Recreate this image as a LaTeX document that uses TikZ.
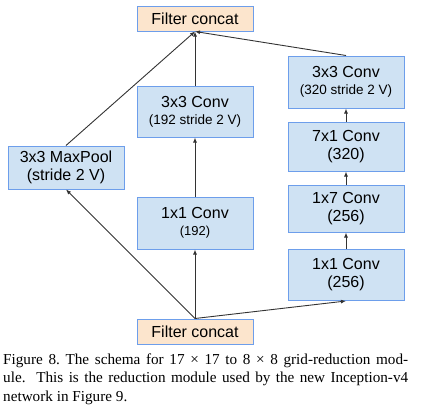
\documentclass[tikz,border=0pt]{standalone}
\usepackage{fontspec}
\setmainfont{Liberation Sans}
\newfontfamily\capfont{Liberation Serif}
\usetikzlibrary{arrows.meta}
\definecolor{boxblue}{HTML}{CFE2F3}
\definecolor{boxorange}{HTML}{FCE5CD}
\definecolor{edgeblue}{HTML}{6D9EEB}
\definecolor{linegray}{HTML}{333333}
\frenchspacing
\begin{document}
\begin{tikzpicture}[x=1pt,y=-1pt,
  bx/.style={draw=edgeblue,line width=1pt,fill=boxblue,minimum width=116pt,inner sep=0pt,align=center,font=\fontsize{16}{18}\selectfont},
  cc/.style={bx,fill=boxorange,minimum height=25pt},
  captext/.style={anchor=base west,inner sep=0pt,font=\capfont\fontsize{15.2}{17}\selectfont},
  arr/.style={draw=linegray,line width=0.9pt,-{Latex[length=5pt,width=4pt]}}]
\useasboundingbox (0,0) rectangle (424,407);
\node[cc] (top) at (195,18.5) {Filter concat};
\node[cc] (bot) at (195,331.5) {Filter concat};
\node[bx,minimum height=52pt] (c3b) at (346,82) {3x3 Conv\\[-1pt]{\fontsize{13.5}{16}\selectfont(320 stride 2 V)}};
\node[bx,minimum height=51pt] (c3a) at (195,111.5) {3x3 Conv\\[-1pt]{\fontsize{13.5}{16}\selectfont(192 stride 2 V)}};
\node[bx,minimum height=49pt] (c71) at (346,146.5) {7x1 Conv\\(320)};
\node[bx,minimum height=43pt] (mp) at (66,167.5) {3x3 MaxPool\\(stride 2 V)};
\node[bx,minimum height=47pt] (c17) at (346,208.5) {1x7 Conv\\(256)};
\node[bx,minimum height=52pt] (c1a) at (195,223) {1x1 Conv\\[-1pt]{\fontsize{13}{16}\selectfont(192)}};
\node[bx,minimum height=51pt] (c1b) at (346,275) {1x1 Conv\\(256)};
\draw[arr] (bot.north) -- (mp.south);
\draw[arr] (bot.north) -- (c1a.south);
\draw[arr] (bot.north) -- (c1b.south);
\draw[arr] (c1b) -- (c17);
\draw[arr] (c17) -- (c71);
\draw[arr] (c71) -- (c3b);
\draw[arr] (c1a) -- (c3a);
\draw[arr] (c3a.north) -- (top.south);
\draw[arr] (mp.north) -- (top.south);
\draw[arr] (c3b.north) -- (top.south);
\node[captext] (l1) at (3,364) {\makebox[405pt][s]{Figure 8. The schema for 17 × 17 to 8 × 8 grid-reduction mod-}};
\node[captext] (l2) at (3,382.5) {\makebox[405pt][s]{ule. \ This is the reduction module used by the new Inception-v4}};
\node[captext] (l3) at (3,401) {network in Figure 9.};
\end{tikzpicture}
\end{document}
